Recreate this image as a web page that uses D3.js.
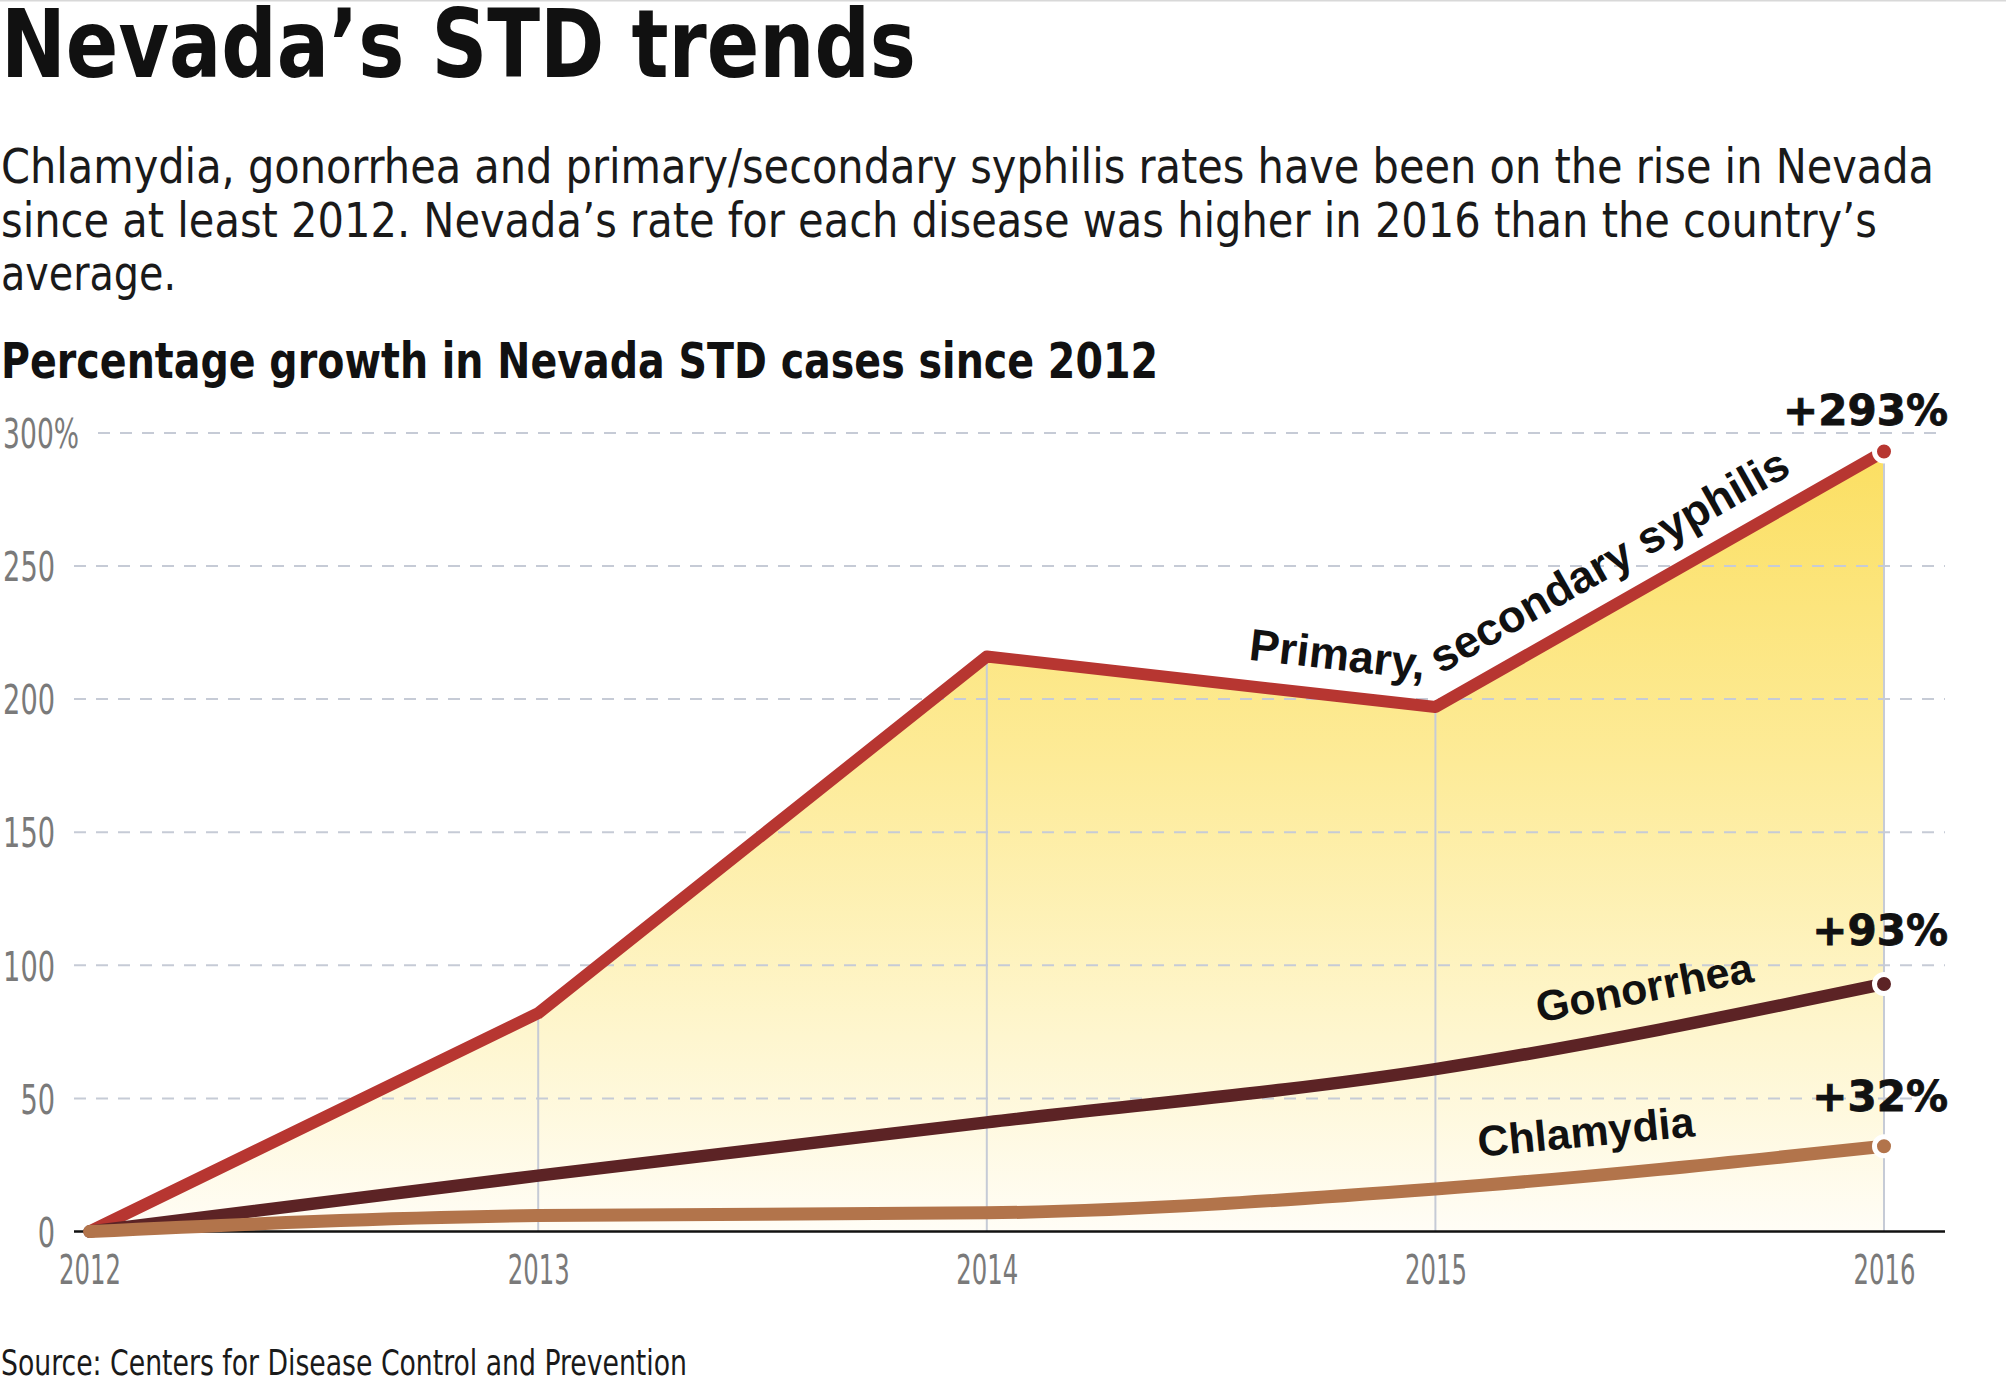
<!DOCTYPE html>
<html><head><meta charset="utf-8">
<script src="https://cdn.jsdelivr.net/npm/d3@7"></script>
<style>
html,body{margin:0;padding:0;background:#fff;}
svg{display:block;}
</style></head><body>
<svg id="chart" width="2006" height="1388"></svg>
<script>
// ---------------- data ----------------
const years = [2012, 2013, 2014, 2015, 2016];
const syphilis = [0, 82, 216, 197, 293];
const gonorrhea = [0, 21, 41, 61, 93];
const chlamydia = [0, 6, 7, 16, 32];
const yTicks = [0, 50, 100, 150, 200, 250, 300];
const seriesNames = ["Primary, secondary syphilis", "Gonorrhea", "Chlamydia"];
const endLabels = ["+293%", "+93%", "+32%"];
const titleText = "Nevada’s STD trends";
const subtitleLines = [
  "Chlamydia, gonorrhea and primary/secondary syphilis rates have been on the rise in Nevada",
  "since at least 2012. Nevada’s rate for each disease was higher in 2016 than the country’s",
  "average."
];
const chartTitle = "Percentage growth in Nevada STD cases since 2012";
const sourceText = "Source: Centers for Disease Control and Prevention";

// ---------------- setup ----------------
const svg = d3.select("#chart");
const NARROW = "'Liberation Sans Narrow','DejaVu Sans Condensed','Arial Narrow',sans-serif";
const BOLD = "'Liberation Sans','Arimo',Arial,sans-serif";
const WIDE = "'DejaVu Sans',sans-serif";

const x = d3.scalePoint().domain(years).range([89.6, 1884]);
const y = d3.scaleLinear().domain([0, 300]).range([1231.5, 432.9]);

const colors = {syph: "#b73631", gon: "#5c2325", chl: "#b2744b"};
const series = [
  {key: "syph", values: syphilis, color: colors.syph, curve: d3.curveLinear, width: 12},
  {key: "gon", values: gonorrhea, color: colors.gon, curve: d3.curveMonotoneX, width: 12.5},
  {key: "chl", values: chlamydia, color: colors.chl, curve: d3.curveMonotoneX, width: 13}
];

// top border
svg.append("line").attr("x1", 0).attr("x2", 2006).attr("y1", 0.5).attr("y2", 0.5)
  .attr("stroke", "#d8d8d8").attr("stroke-width", 2);

// ---------------- titles ----------------
svg.append("text").attr("x", 1).attr("y", 77)
  .attr("font-family", NARROW).attr("font-weight", 700).attr("font-size", 94)
  .attr("fill", "#111").attr("textLength", 915).attr("lengthAdjust", "spacingAndGlyphs")
  .text(titleText);

const subWidths = [1933, 1876, 175];
const subBase = [183, 237, 290];
subtitleLines.forEach((t, i) => {
  svg.append("text").attr("x", 1).attr("y", subBase[i])
    .attr("font-family", NARROW).attr("font-weight", 400).attr("font-size", 48)
    .attr("fill", "#1a1a1a").attr("textLength", subWidths[i]).attr("lengthAdjust", "spacingAndGlyphs")
    .text(t);
});

svg.append("text").attr("x", 1).attr("y", 378)
  .attr("font-family", NARROW).attr("font-weight", 700).attr("font-size", 49)
  .attr("fill", "#111").attr("textLength", 1157).attr("lengthAdjust", "spacingAndGlyphs")
  .text(chartTitle);

svg.append("text").attr("x", 1).attr("y", 1375)
  .attr("font-family", NARROW).attr("font-weight", 400).attr("font-size", 36)
  .attr("fill", "#1a1a1a").attr("textLength", 686).attr("lengthAdjust", "spacingAndGlyphs")
  .text(sourceText);

// ---------------- area ----------------
const defs = svg.append("defs");
const grad = defs.append("linearGradient").attr("id", "areaGrad")
  .attr("gradientUnits", "userSpaceOnUse")
  .attr("x1", 0).attr("x2", 0).attr("y1", y(293)).attr("y2", y(0));
grad.append("stop").attr("offset", 0).attr("stop-color", "#fbdf62");
grad.append("stop").attr("offset", 0.4).attr("stop-color", "#fdeb98");
grad.append("stop").attr("offset", 0.75).attr("stop-color", "#fef6cf");
grad.append("stop").attr("offset", 1).attr("stop-color", "#fffdf6");

const area = d3.area().x((d, i) => x(years[i])).y0(y(0)).y1(d => y(d));
svg.append("path").datum(syphilis).attr("d", area).attr("fill", "url(#areaGrad)");

// ---------------- gridlines ----------------
const grid = svg.append("g");
grid.selectAll("line.g").data(yTicks.filter(v => v > 0)).join("line")
  .attr("class", "g")
  .attr("x1", d => d === 300 ? 98 : 74).attr("x2", 1945)
  .attr("y1", d => y(d)).attr("y2", d => y(d))
  .attr("stroke", "#c6cbd6").attr("stroke-width", 2).attr("stroke-dasharray", "12,10");

// vertical guide lines
svg.append("g").selectAll("line").data(years.slice(1)).join("line")
  .attr("x1", d => x(d)).attr("x2", d => x(d))
  .attr("y1", (d) => y(syphilis[years.indexOf(d)])).attr("y2", y(0))
  .attr("stroke", "#c6cbd6").attr("stroke-width", 2);

// baseline
svg.append("line").attr("x1", 74).attr("x2", 1945).attr("y1", y(0)).attr("y2", y(0))
  .attr("stroke", "#111").attr("stroke-width", 2.5);

// ---------------- axes ----------------
const topTick = d3.max(yTicks);
const digitW = 17.3;
const yAxis = svg.append("g").attr("transform", "translate(55,0)")
  .call(d3.axisLeft(y).tickValues(yTicks).tickSize(0).tickPadding(0)
    .tickFormat(d => d === topTick ? d + "%" : String(d)));
yAxis.select(".domain").remove();
yAxis.selectAll("text").attr("font-family", NARROW).attr("font-size", 41).attr("fill", "#7a7a7a")
  .attr("dy", "0.36em")
  .attr("textLength", d => String(d).length * digitW + (d === topTick ? 24 : 0))
  .attr("lengthAdjust", "spacingAndGlyphs")
  .filter(d => d === topTick)
  .attr("text-anchor", "start")
  .attr("x", d => -String(d).length * digitW);

const xAxis = svg.append("g").attr("transform", `translate(0,${y(0)})`)
  .call(d3.axisBottom(x).tickSize(0).tickPadding(23).tickFormat(d3.format("d")));
xAxis.select(".domain").remove();
xAxis.selectAll("text").attr("font-family", NARROW).attr("font-size", 41).attr("fill", "#7a7a7a")
  .attr("textLength", 62).attr("lengthAdjust", "spacingAndGlyphs");

// ---------------- lines ----------------
series.forEach(s => {
  const line = d3.line().x((d, i) => x(years[i])).y(d => y(d)).curve(s.curve);
  svg.append("path").datum(s.values).attr("d", line)
    .attr("fill", "none").attr("stroke", s.color).attr("stroke-width", s.width)
    .attr("stroke-linejoin", "round").attr("stroke-linecap", "round");
});

// end dots
series.forEach(s => {
  const v = s.values[s.values.length - 1];
  svg.append("circle").attr("cx", x(2016)).attr("cy", y(v)).attr("r", 9.5)
    .attr("fill", s.color).attr("stroke", "#fff").attr("stroke-width", 5);
});

// end value labels
const endOffsets = [27, 39, 35];
series.forEach((s, i) => {
  const v = s.values[s.values.length - 1];
  svg.append("text").attr("x", 1948).attr("y", y(v) - endOffsets[i])
    .attr("text-anchor", "end").attr("font-family", WIDE).attr("font-weight", 700)
    .attr("font-size", 42).attr("fill", "#111")
    .attr("stroke", "#111").attr("stroke-width", 0.8)
    .text(endLabels[i]);
});

// ---------------- series labels ----------------
function offsetPolyline(pts, d) {
  const normals = [];
  for (let i = 0; i < pts.length - 1; i++) {
    const dx = pts[i + 1][0] - pts[i][0], dy = pts[i + 1][1] - pts[i][1];
    const L = Math.hypot(dx, dy);
    normals.push([dy / L, -dx / L]);
  }
  const out = [];
  out.push([pts[0][0] + normals[0][0] * d, pts[0][1] + normals[0][1] * d]);
  for (let i = 1; i < pts.length - 1; i++) {
    const a = normals[i - 1], b = normals[i];
    const dot = a[0] * b[0] + a[1] * b[1];
    const k = d / (1 + dot);
    out.push([pts[i][0] + (a[0] + b[0]) * k, pts[i][1] + (a[1] + b[1]) * k]);
  }
  const n = normals[normals.length - 1], p = pts[pts.length - 1];
  out.push([p[0] + n[0] * d, p[1] + n[1] * d]);
  return out;
}
const syphPts = syphilis.map((v, i) => [x(years[i]), y(v)]);
const offPts = offsetPolyline(syphPts, 26);
defs.append("path").attr("id", "syphPath").attr("d", d3.line()(offPts));
let startLen = 0;
for (let i = 0; i < offPts.length - 1; i++) {
  const [x0, y0] = offPts[i], [x1, y1] = offPts[i + 1];
  const segL = Math.hypot(x1 - x0, y1 - y0);
  if (x1 < 1248) { startLen += segL; continue; }
  startLen += segL * (1248 - x0) / (x1 - x0);
  break;
}
const [firstWord, ...restWords] = seriesNames[0].split(" ");
const tp = svg.append("text").attr("font-family", BOLD).attr("font-weight", 700).attr("font-size", 45)
  .attr("fill", "#111")
  .append("textPath").attr("href", "#syphPath").attr("startOffset", startLen);
tp.append("tspan").text(firstWord + " ");
tp.append("tspan").attr("dx", 6).text(restWords.join(" "));

// gonorrhea & chlamydia labels along last segment
const segLabels = [
  {s: series[1], name: seriesNames[1], startX: 1539, off: 27},
  {s: series[2], name: seriesNames[2], startX: 1479, off: 28}
];
segLabels.forEach(l => {
  const v = l.s.values;
  const xa = x(2015), xb = x(2016), ya = y(v[3]), yb = y(v[4]);
  const ang = Math.atan2(yb - ya, xb - xa) * 180 / Math.PI;
  const t = (l.startX - xa) / (xb - xa);
  const yy = ya + t * (yb - ya) - l.off;
  svg.append("text").attr("transform", `translate(${l.startX},${yy}) rotate(${ang})`)
    .attr("font-family", BOLD).attr("font-weight", 700).attr("font-size", 43)
    .attr("fill", "#111").text(l.name);
});
</script>
</body></html>
